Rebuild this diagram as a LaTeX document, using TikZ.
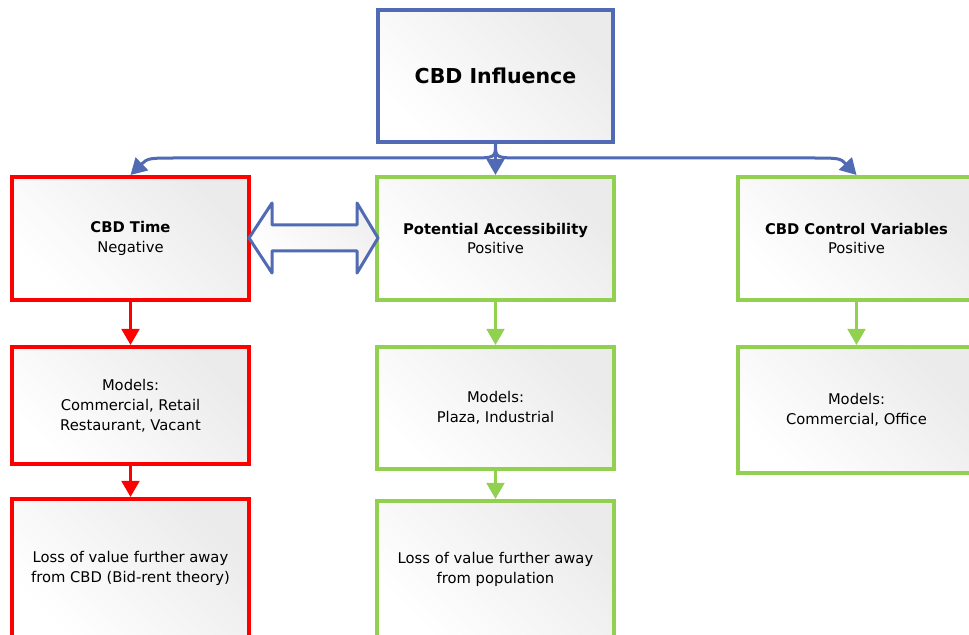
\documentclass[tikz,border=0pt]{standalone}
\usepackage{fontspec}
\setmainfont{DejaVu Sans}
\usetikzlibrary{arrows.meta}
\definecolor{cbdblue}{RGB}{80,106,180}
\definecolor{cbdred}{RGB}{255,0,0}
\definecolor{cbdgreen}{RGB}{146,208,80}
\tikzset{
  box/.style={draw, line width=0.1cm, top color=black!8, bottom color=white, shading angle=-45,
    align=center, minimum width=5.925cm, font=\fontsize{10.5}{14.2}\selectfont},
  redbox/.style={box, draw=cbdred},
  greenbox/.style={box, draw=cbdgreen},
  bluebox/.style={box, draw=cbdblue},
  downarrow/.style={line width=0.075cm, -{Triangle[length=0.4cm, width=0.44cm]}},
}

\begin{document}
\begin{tikzpicture}[x=0.025cm, y=-0.025cm]
    \useasboundingbox (0,0) rectangle (969,635);
    \clip (0,0) rectangle (969,635);
    \node[bluebox, minimum width=5.875cm, minimum height=3.3cm,
        font=\fontsize{14.6}{18}\selectfont\bfseries] (top) at (495.5,76) {CBD Influence};
    \node[redbox, minimum height=3.075cm] (time) at (130.5,238.5) {\textbf{CBD Time}\\Negative};
    \node[greenbox, minimum height=3.075cm] (access) at (495.5,238.5) {\textbf{Potential Accessibility}\\Positive};
    \node[greenbox, minimum height=3.075cm] (control) at (856.5,238.5) {\textbf{CBD Control Variables}\\Positive};
    \node[redbox, minimum height=2.925cm] (tmodels) at (130.5,405.5) {Models:\\Commercial, Retail\\Restaurant, Vacant};
    \node[greenbox, minimum height=3.05cm] (amodels) at (495.5,408) {Models:\\Plaza, Industrial};
    \node[greenbox, minimum height=3.15cm] (cmodels) at (856.5,410) {Models:\\Commercial, Office};
    \node[redbox, minimum height=3.45cm] (tloss) at (130.5,568) {Loss of value further away\\from CBD (Bid-rent theory)};
    \node[greenbox, minimum height=3.4cm] (aloss) at (495.5,569) {Loss of value further away\\from population};
    \foreach \a/\b/\c in {time/tmodels/cbdred, tmodels/tloss/cbdred, access/amodels/cbdgreen,
        amodels/aloss/cbdgreen, control/cmodels/cbdgreen}{
        \draw[downarrow, draw=\c] (\a.south) -- (\b.north);
    }
    % branches from the top box
    \draw[downarrow, draw=cbdblue] (top.south) -- (access.north);
    \draw[downarrow, draw=cbdblue] (top.south) .. controls (495.5,158) .. (468,158) -- (180,158)
        .. controls (148,158) .. (time.north);
    \draw[downarrow, draw=cbdblue] (top.south) .. controls (495.5,158) .. (523,158) -- (808,158)
        .. controls (840,158) .. (control.north);
    \draw[cbdblue, line width=0.075cm, line join=round, top color=black!6, bottom color=white, shading angle=-45]
        (249,238) -- (272,203) -- (272,225) -- (357,225) -- (357,203) -- (378,238)
        -- (357,273) -- (357,251) -- (272,251) -- (272,273) -- cycle;
\end{tikzpicture}
\end{document}
